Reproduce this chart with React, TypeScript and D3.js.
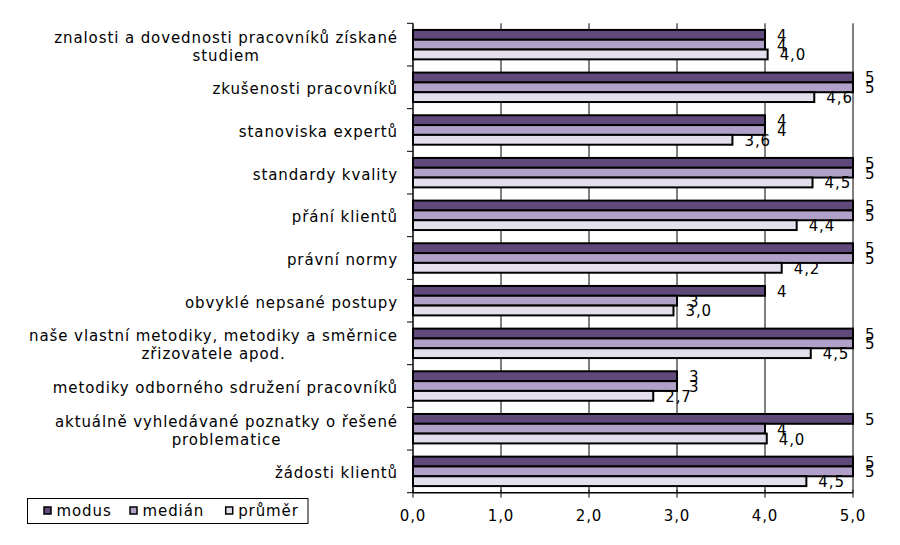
import React from "react";
import * as d3 from "d3";

const categories: string[][] = [
  ["znalosti a dovednosti pracovníků získané", "studiem"],
  ["zkušenosti pracovníků"],
  ["stanoviska expertů "],
  ["standardy kvality"],
  ["přání klientů"],
  ["právní normy"],
  ["obvyklé nepsané postupy"],
  ["naše vlastní metodiky, metodiky a směrnice", "zřizovatele apod."],
  ["metodiky odborného sdružení pracovníků"],
  ["aktuálně vyhledávané poznatky o řešené", "problematice"],
  ["žádosti klientů"],
];
const modus = [4, 5, 4, 5, 5, 5, 4, 5, 3, 5, 5];
const median = [4, 5, 4, 5, 5, 5, 3, 5, 3, 4, 5];
const prumer = [4.03, 4.56, 3.63, 4.54, 4.36, 4.19, 2.96, 4.52, 2.73, 4.02, 4.47];
const seriesNames = ["modus", "medián", "průměr"];
const seriesColors = ["#604A7B", "#B1A0C7", "#E4DFEC"];
const xTicks = [0, 1, 2, 3, 4, 5];

const W = 900;
const H = 545;
const left = 413;
const right = 853;
const top = 23.3;
const bottom = 492.7;
const font = "'DejaVu Sans', Verdana, sans-serif";
const FS = 15;
const LS = 0.9;

let ctx: CanvasRenderingContext2D | null = null;
function measure(t: string): number {
  if (!ctx) {
    const c = document.createElement("canvas");
    ctx = c.getContext("2d");
  }
  if (!ctx) return t.length * 9;
  ctx.font = `${FS}px 'DejaVu Sans'`;
  return ctx.measureText(t).width + LS * t.length;
}

export default function App() {
  const x = d3.scaleLinear().domain([0, 5]).range([left, right]);
  const ids = categories.map((_, i) => String(i));
  const y = d3
    .scaleBand<string>()
    .domain(ids)
    .range([top, bottom])
    .paddingInner(0.31)
    .paddingOuter(0.155);
  const inner = d3
    .scaleBand<string>()
    .domain(["0", "1", "2"])
    .range([0, y.bandwidth()]);
  const step = y.step();
  const series = [modus, median, prumer];
  const fmt = (v: number, s: number) =>
    s === 2 ? d3.format(".1f")(v).replace(".", ",") : String(v);
  const labelRight = 398;

  return (
    <svg
      width={W}
      height={H}
      style={{ position: "absolute", left: 0, top: 0, background: "#fff" }}
      fontFamily={font}
      letterSpacing={LS}
    >
      {/* gridlines */}
      {xTicks.slice(1).map((t) => (
        <line key={"g" + t} x1={x(t)} x2={x(t)} y1={top} y2={bottom} stroke="#000" strokeWidth={1} />
      ))}
      {/* bars */}
      {ids.map((id, i) =>
        series.map((vals, s) => (
          <rect
            key={id + "-" + s}
            x={x(0)}
            y={(y(id) as number) + (inner(String(s)) as number)}
            width={x(vals[i]) - x(0)}
            height={inner.bandwidth()}
            fill={seriesColors[s]}
            stroke="#000"
            strokeWidth={2}
          />
        ))
      )}
      {/* value labels */}
      {ids.map((id, i) =>
        series.map((vals, s) => (
          <text
            key={"l" + id + "-" + s}
            x={x(vals[i]) + 12}
            y={(y(id) as number) + (inner(String(s)) as number) + inner.bandwidth() / 2 + 1}
            dominantBaseline="central"
            fontSize={FS}
            fill="#000"
          >
            {fmt(vals[i], s)}
          </text>
        ))
      )}
      {/* left axis */}
      <line x1={left} x2={left} y1={top} y2={bottom} stroke="#000" strokeWidth={1.5} />
      {d3.range(categories.length + 1).map((k) => (
        <line key={"yt" + k} x1={left - 6} x2={left} y1={top + k * step} y2={top + k * step} stroke="#000" strokeWidth={1} />
      ))}
      {/* bottom axis */}
      <line x1={left} x2={right} y1={bottom} y2={bottom} stroke="#000" strokeWidth={1.5} />
      {xTicks.map((t) => (
        <g key={"xt" + t}>
          <line x1={x(t)} x2={x(t)} y1={bottom - 3} y2={bottom + 5} stroke="#000" strokeWidth={1} />
          <text x={x(t)} y={521} textAnchor="middle" fontSize={FS} fill="#000">
            {d3.format(".1f")(t).replace(".", ",")}
          </text>
        </g>
      ))}
      {/* category labels */}
      {ids.map((id, i) => {
        const lines = categories[i];
        const cy = (y(id) as number) + y.bandwidth() / 2 + 2;
        const lh = 18;
        const maxW = Math.max(...lines.map(measure));
        const cx = labelRight - maxW / 2;
        return lines.map((ln, j) => (
          <text
            key={"c" + id + "-" + j}
            x={lines.length > 1 ? cx : labelRight}
            y={cy + (j - (lines.length - 1) / 2) * lh}
            dominantBaseline="central"
            textAnchor={lines.length > 1 ? "middle" : "end"}
            fontSize={FS}
            fill="#000"
          >
            {ln}
          </text>
        ));
      })}
      {/* legend */}
      <rect x={27.5} y={498.5} width={280.5} height={25} fill="#fff" stroke="#000" strokeWidth={1} />
      {seriesNames.map((n, s) => {
        const lx = [44, 130, 225.7][s];
        return (
          <g key={"lg" + s}>
            <rect x={lx} y={507} width={7} height={7} fill={seriesColors[s]} stroke="#000" strokeWidth={1.5} />
            <text x={lx + 12.5} y={511} dominantBaseline="central" fontSize={FS} fill="#000">
              {n}
            </text>
          </g>
        );
      })}
    </svg>
  );
}
